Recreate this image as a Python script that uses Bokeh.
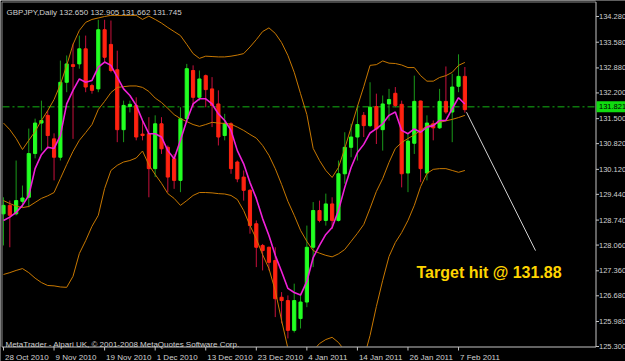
import numpy as np
import pandas as pd
from bokeh.plotting import figure
from bokeh.models import Range1d, Label, ColumnDataSource
from bokeh.core.properties import value
from bokeh.embed import file_html
from bokeh.resources import INLINE

# ---------------- data (GBPJPY daily, 28 Oct 2010 - 8 Feb 2011) ----------------
symbol = "GBPJPY,Daily"
dates = pd.bdate_range("2010-10-28", "2011-02-08")

opens = [128.91, 129.14, 128.91, 129.25, 129.36, 130.55, 131.38, 131.59, 130.95, 130.45,
         132.49, 132.97, 132.99, 133.40, 132.40, 132.31, 133.92, 133.52, 132.83, 131.20,
         131.83, 131.86, 131.08, 131.09, 130.14, 131.36, 130.72, 130.41, 129.82, 131.50,
         132.81, 132.08, 132.67, 132.31, 131.90, 131.04, 131.36, 130.32, 129.91, 129.55,
         128.64, 128.05, 128.00, 127.64, 126.64, 126.55, 125.74, 126.06, 126.51, 128.00,
         129.00, 128.73, 129.18, 128.73, 130.00, 130.72, 131.00, 131.59, 131.31, 131.83,
         131.20, 131.90, 132.19, 131.89, 130.02, 130.83, 131.98, 130.02, 131.36, 131.25,
         131.97, 131.68, 132.38, 132.650]
highs = [129.36, 129.27, 130.36, 129.68, 131.23, 131.50, 131.99, 131.72, 131.10, 133.08,
         133.22, 133.54, 133.76, 133.76, 132.45, 134.19, 134.19, 134.17, 133.35, 131.99,
         131.99, 132.08, 131.45, 131.54, 131.59, 131.54, 130.77, 130.54, 131.81, 132.99,
         132.95, 132.81, 132.70, 132.63, 132.27, 131.63, 131.40, 130.36, 130.09, 129.58,
         128.73, 128.09, 128.02, 128.00, 126.78, 126.69, 127.01, 126.74, 128.59, 129.23,
         129.27, 129.46, 129.36, 130.36, 131.13, 131.36, 131.86, 131.68, 132.49, 132.18,
         132.13, 132.31, 132.36, 131.99, 131.09, 132.67, 131.99, 131.59, 131.45, 132.31,
         132.92, 132.72, 133.25, 132.905]
lows = [128.05, 128.00, 128.87, 129.09, 129.09, 130.42, 130.63, 130.68, 129.82, 130.36,
        132.22, 130.95, 132.86, 132.22, 132.18, 132.22, 133.04, 132.76, 130.86, 130.86,
        131.67, 130.91, 130.91, 129.36, 129.91, 130.54, 129.50, 129.59, 129.50, 131.45,
        131.81, 131.99, 131.81, 131.27, 130.77, 130.91, 130.00, 129.77, 129.27, 128.37,
        127.46, 127.37, 127.37, 126.10, 125.93, 125.52, 125.68, 125.79, 126.37, 127.46,
        128.68, 128.59, 128.50, 128.70, 129.73, 130.45, 130.36, 131.00, 131.27, 130.81,
        130.63, 131.45, 131.81, 129.63, 129.50, 130.54, 129.77, 129.82, 130.91, 131.22,
        131.63, 130.86, 132.22, 131.662]
closes = [129.14, 128.87, 129.27, 129.34, 130.55, 131.38, 131.45, 131.04, 130.45, 132.49,
          132.99, 132.92, 133.40, 132.36, 132.27, 133.92, 133.17, 132.81, 131.20, 131.86,
          131.89, 131.00, 131.04, 130.14, 131.36, 130.68, 129.91, 129.82, 131.50, 132.86,
          132.08, 132.58, 132.29, 131.86, 131.00, 131.36, 130.14, 129.86, 129.55, 128.59,
          128.00, 127.91, 127.59, 126.60, 126.55, 125.74, 126.55, 126.51, 128.00, 129.00,
          128.73, 129.18, 128.73, 130.00, 130.72, 131.00, 131.34, 131.31, 131.81, 131.22,
          131.90, 132.02, 131.86, 130.00, 130.89, 131.97, 130.14, 131.38, 131.25, 131.97,
          131.68, 132.36, 132.65, 131.745]

ma_line = [128.73, 128.82, 128.95, 129.14, 129.41, 130.14, 130.52, 130.72, 130.69, 131.04,
           131.90, 132.27, 132.58, 132.49, 132.54, 132.90, 133.04, 132.95, 132.63, 132.31,
           132.13, 131.86, 131.45, 131.09, 131.09, 131.00, 130.63, 130.41, 130.91, 131.45,
           131.90, 132.04, 132.04, 131.90, 131.63, 131.45, 131.18, 130.63, 130.27, 129.76,
           129.33, 128.78, 128.32, 127.78, 127.34, 126.88, 126.77, 126.70, 127.07, 127.72,
           128.05, 128.35, 128.54, 129.00, 129.63, 130.17, 130.58, 130.80, 131.11, 131.23,
           131.36, 131.59, 131.68, 131.18, 131.09, 131.22, 131.13, 131.27, 131.31, 131.45,
           131.45, 131.77, 132.07, 131.90]
bb_upper = [131.38, 131.20, 130.96, 130.66, 130.91, 131.15, 131.45, 131.72, 132.02, 132.43,
            132.95, 133.52, 133.90, 134.12, 134.20, 134.24, 134.28, 134.31, 134.31, 134.31,
            134.31, 134.31, 134.20, 134.29, 134.20, 134.10, 133.98, 133.87, 133.76, 133.52,
            133.27, 133.14, 133.20, 133.19, 133.18, 133.18, 133.20, 133.23, 133.27, 133.45,
            133.65, 133.87, 133.97, 133.82, 133.57, 133.22, 132.76, 132.18, 131.61, 130.69,
            130.36, 130.09, 129.90, 130.17, 130.69, 131.26, 131.83, 132.37, 132.95, 132.97,
            133.07, 133.01, 133.00, 132.96, 132.89, 132.89, 132.67, 132.52, 132.52, 132.62,
            132.67, 132.76, 132.95, 133.03]
bb_middle = [129.27, 129.19, 129.12, 129.08, 129.11, 129.22, 129.33, 129.40, 129.49, 129.87,
             130.25, 130.61, 130.91, 131.12, 131.34, 131.75, 131.97, 132.21, 132.35, 132.37,
             132.39, 132.39, 132.35, 132.24, 132.06, 131.94, 131.78, 131.61, 131.50, 131.42,
             131.34, 131.29, 131.34, 131.40, 131.38, 131.37, 131.35, 131.27, 131.18, 131.07,
             130.97, 130.77, 130.50, 130.14, 129.71, 129.25, 128.87, 128.46, 128.16, 127.91,
             127.84, 127.78, 127.74, 127.82, 127.94, 128.16, 128.38, 128.62, 129.06, 129.52,
             129.87, 130.31, 130.69, 130.85, 130.96, 131.06, 131.18, 131.30, 131.34, 131.40,
             131.44, 131.48, 131.53, 131.59]
bb_lower = [127.26, 127.31, 127.37, 127.42, 127.31, 127.16, 127.04, 126.96, 126.95, 126.92,
            126.91, 127.21, 127.83, 128.18, 128.57, 128.87, 129.60, 130.09, 130.23, 130.32,
            130.36, 130.43, 130.62, 130.24, 129.98, 129.74, 129.46, 129.33, 129.14, 129.27,
            129.41, 129.49, 129.49, 129.48, 129.46, 129.45, 129.41, 129.30, 129.00, 128.59,
            128.23, 127.80, 127.42, 126.82, 126.01, 125.25, 125.00, 124.73, 124.70, 125.19,
            125.38, 125.49, 125.55, 125.41, 125.19, 125.06, 124.92, 124.97, 125.60, 126.39,
            127.10, 127.75, 128.13, 128.40, 128.73, 129.14, 129.65, 130.01, 130.12, 130.14,
            130.14, 130.09, 130.04, 130.09]

price_line = 131.821
ytick_vals = [134.28, 133.58, 132.88, 132.20, 131.50, 130.82, 130.12, 129.44,
              128.74, 128.06, 127.36, 126.68, 125.98, 125.30]
xtick_labels = ["28 Oct 2010", "9 Nov 2010", "19 Nov 2010", "1 Dec 2010", "13 Dec 2010",
                "23 Dec 2010", "4 Jan 2011", "14 Jan 2011", "26 Jan 2011", "7 Feb 2011"]

# annotation trend line and note (bar index, price)
arrow_x = [73.26, 84.18]
arrow_y = [131.675, 127.91]
note_text = "Target hit @ 131.88"
note_x, note_y = 65.35, 127.31

copyright_text = "MetaTrader - Alpari UK, \u00a9 2001-2008 MetaQuotes Software Corp."

# ---------------- layout (screen geometry of the MetaTrader window) ----------------
W, H = 625, 361
BAR_PX = 6.32          # pixels per bar
FIRST_BAR_PX = 3.0     # x pixel of first bar
PRICE_PX = 36.75       # pixels per 1.00 price
BASE_PRICE = 125.30    # price at bottom edge of chart area
BASE_PY = 346.0        # pixel row of bottom edge

x_start = -FIRST_BAR_PX / BAR_PX
x_end = (W - FIRST_BAR_PX) / BAR_PX
y_start = BASE_PRICE - (H - BASE_PY) / PRICE_PX
y_end = BASE_PRICE + BASE_PY / PRICE_PX


def X(px):
    return x_start + px / BAR_PX


def Y(py):
    return y_end - py / PRICE_PX


FONT = "Liberation Sans"
TXT = "#d0d0d0"
FRAME = "#a8a8a8"
AXIS = "#c4c4c4"
UP_BODY, DN_BODY = "#22ff22", "#ff2210"
UP_WICK, DN_WICK = "#1a9a1a", "#c8103c"
BAND = "#c87800"
MAGENTA = "#f020d8"

idx = np.arange(len(closes))
o = np.array(opens); c = np.array(closes)
up = c >= o
src = ColumnDataSource(dict(
    x=idx, h=highs, l=lows,
    top=np.maximum(o, c), bottom=np.minimum(o, c),
    body=[UP_BODY if u else DN_BODY for u in up],
    wick=[UP_WICK if u else DN_WICK for u in up],
))

p = figure(width=W, height=H, x_range=Range1d(x_start, x_end), y_range=Range1d(y_start, y_end),
           output_backend="svg", toolbar_location=None,
           x_axis_location=None, y_axis_location=None,
           background_fill_color="#000000", border_fill_color="#000000",
           outline_line_color=None,
           min_border_left=0, min_border_right=0, min_border_top=0, min_border_bottom=0)
p.grid.visible = False

# price line (dash-dot)
p.line([X(2), X(595)], [price_line, price_line], line_color="#14b414",
       line_dash="7 3 2 3", line_width=1)

# candles
p.segment(x0="x", y0="l", x1="x", y1="h", line_color="wick", line_width=1, source=src)
p.vbar(x="x", width=0.5, top="top", bottom="bottom", fill_color="body",
       line_color="body", line_width=1, source=src)

# indicators
p.line(idx, bb_upper, line_color=BAND, line_width=1)
p.line(idx, bb_middle, line_color=BAND, line_width=1)
p.line(idx, bb_lower, line_color=BAND, line_width=1)
p.line(idx, ma_line, line_color=MAGENTA, line_width=1.6)

# trend line
p.line(arrow_x, arrow_y, line_color="#d0d0d0", line_width=1)

# masks outside the chart area (MetaTrader clips indicators at the frame)
p.quad(left=[X(0)], right=[X(W)], bottom=[Y(H)], top=[Y(BASE_PY)],
       fill_color="#000000", line_color=None)
p.quad(left=[X(595)], right=[X(W)], bottom=[Y(H)], top=[Y(0)],
       fill_color="#000000", line_color=None)

# frame and axes
p.line([X(595.5), X(1.5), X(1.5)], [Y(1.5), Y(1.5), Y(346.5)], line_color="#8c8c8c", line_width=1)
p.line([X(1.5), X(595.5), X(595.5)], [Y(346.5), Y(346.5), Y(1.5)], line_color=AXIS, line_width=1)

xtick_idx = [int(dates.get_loc(pd.to_datetime(t, format="%d %b %Y"))) for t in xtick_labels]
p.segment(x0=xtick_idx, x1=xtick_idx, y0=[Y(346.5)] * len(xtick_idx), y1=[Y(350)] * len(xtick_idx),
          line_color=AXIS, line_width=1)
p.segment(x0=[X(595.5)] * len(ytick_vals), x1=[X(598.5)] * len(ytick_vals),
          y0=ytick_vals, y1=ytick_vals, line_color=AXIS, line_width=1)

# tick labels
p.text(x=[t + 1.5 / BAR_PX for t in xtick_idx], y=[Y(357)] * len(xtick_idx), text=xtick_labels,
       text_color=TXT, text_font=value(FONT), text_font_size="8px", text_baseline="alphabetic")
p.text(x=[X(598.5)] * len(ytick_vals), y=ytick_vals, text=[f"{v:.3f}" for v in ytick_vals],
       text_color=TXT, text_font=value(FONT), text_font_size="7.5px", text_baseline="middle")

# current price box
p.quad(left=[X(596)], right=[X(W)], bottom=[price_line - 5.5 / PRICE_PX],
       top=[price_line + 5.5 / PRICE_PX], fill_color="#10dc10", line_color=None)
p.text(x=[X(598.5)], y=[price_line], text=[f"{price_line:.3f}"], text_color="#000000",
       text_font=value(FONT), text_font_size="7.5px", text_baseline="middle")

# texts
title = f"{symbol}  {opens[-1]:.3f} {highs[-1]:.3f} {lows[-1]:.3f} {closes[-1]:.3f}"
p.add_layout(Label(x=X(6), y=Y(11.5), text=title, text_color=TXT,
                   text_font=FONT, text_font_size="8px", text_baseline="alphabetic"))
p.add_layout(Label(x=X(5), y=Y(344), text=copyright_text, text_color=TXT,
                   text_font=FONT, text_font_size="8px", text_baseline="alphabetic"))
p.add_layout(Label(x=note_x, y=note_y, text=note_text, text_color="#ffd400",
                   text_font=FONT, text_font_style="bold", text_font_size="16px",
                   text_baseline="alphabetic"))

open("out.html", "w").write(file_html(p, INLINE))
